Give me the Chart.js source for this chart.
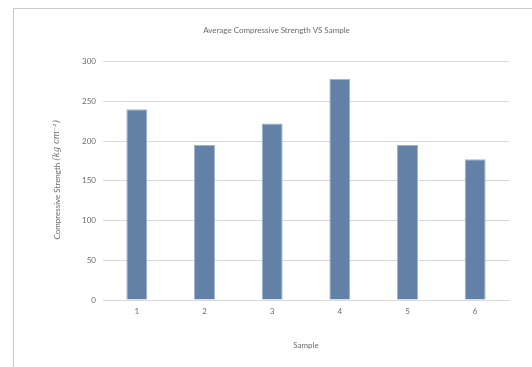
<!DOCTYPE html>
<html>
<head>
<meta charset="utf-8">
<script src="https://cdn.jsdelivr.net/npm/chart.js@4"></script>
<style>
  html, body { margin: 0; padding: 0; background: #ffffff; overflow: hidden; }
  canvas { display: block; }
</style>
</head>
<body>
<canvas id="chart" width="532" height="367" style="width:532px;height:367px"></canvas>
<script>
// Samples tested and their average compressive strength (kg/cm²)
const samples = ['1', '2', '3', '4', '5', '6'];
const strength = [240, 195, 222, 278, 195, 177];
const yTicks = [0, 50, 100, 150, 200, 250, 300];

const chartTitle = 'Average Compressive Strength VS Sample';
const xTitle = 'Sample';
const yTitleMain = 'Compressive Strength ';
const yTitleUnit = '(kg cm⁻²)';

const FONT = 'Lato, "Open Sans", sans-serif';
const TEXT = '#6b6b6b';
const GRID = '#dadada';

// Outer frame of the chart object
const framePlugin = {
  id: 'frame',
  beforeDraw(chart) {
    const ctx = chart.ctx;
    ctx.save();
    ctx.fillStyle = '#ffffff';
    ctx.fillRect(0, 0, chart.width, chart.height);
    ctx.strokeStyle = '#c8c8c8';
    ctx.lineWidth = 1;
    ctx.beginPath();
    ctx.moveTo(13.5, chart.height + 2);
    ctx.lineTo(13.5, 8.5);
    ctx.lineTo(chart.width + 2, 8.5);
    ctx.stroke();
    ctx.restore();
  }
};

// Vertical axis title with the unit set in italics
const yTitlePlugin = {
  id: 'yTitle',
  afterDraw(chart) {
    const ctx = chart.ctx;
    const area = chart.chartArea;
    ctx.save();
    ctx.translate(57, (area.top + area.bottom) / 2 - 1);
    ctx.rotate(-Math.PI / 2);
    ctx.fillStyle = TEXT;
    ctx.textBaseline = 'middle';
    const fMain = '8px ' + FONT;
    const fUnit = 'italic 8.5px "DejaVu Serif", serif';
    ctx.font = fMain;
    const w1 = ctx.measureText(yTitleMain).width;
    ctx.font = fUnit;
    const w2 = ctx.measureText(yTitleUnit).width;
    const x = -(w1 + w2) / 2;
    ctx.font = fMain;
    ctx.textAlign = 'left';
    ctx.fillText(yTitleMain, x, 0);
    ctx.font = fUnit;
    ctx.fillText(yTitleUnit, x + w1, 0);
    ctx.restore();
  }
};

new Chart(document.getElementById('chart'), {
  type: 'bar',
  data: {
    labels: samples,
    datasets: [{
      data: strength,
      backgroundColor: '#6381a6',
      borderColor: '#a3b5cd',
      borderWidth: 1,
      categoryPercentage: 1,
      barPercentage: 0.31
    }]
  },
  options: {
    responsive: false,
    maintainAspectRatio: false,
    animation: false,
    devicePixelRatio: 1,
    layout: { padding: { left: 44, right: 23, top: 0, bottom: 0 } },
    plugins: {
      legend: { display: false },
      tooltip: { enabled: false },
      title: {
        display: true,
        text: chartTitle,
        color: TEXT,
        font: { family: FONT, size: 8, weight: 'normal' },
        padding: { top: 26, bottom: 26 }
      }
    },
    scales: {
      x: {
        grid: { display: false, drawTicks: false },
        border: { display: true, color: GRID, width: 1 },
        ticks: { color: TEXT, font: { family: FONT, size: 8 }, padding: 7 },
        title: {
          display: true,
          text: xTitle,
          color: TEXT,
          font: { family: FONT, size: 8 },
          padding: { top: 0, bottom: 17 }
        },
        afterFit(scale) { scale.height = 67; }
      },
      y: {
        min: 0,
        max: 300,
        afterBuildTicks(scale) { scale.ticks = yTicks.map(v => ({ value: v })); },
        grid: { color: GRID, lineWidth: 1, drawTicks: false },
        border: { display: false },
        ticks: { color: TEXT, font: { family: FONT, size: 8 }, padding: 7 },
        afterFit(scale) { scale.width = 59; }
      }
    }
  },
  plugins: [framePlugin, yTitlePlugin]
});
</script>
</body>
</html>
